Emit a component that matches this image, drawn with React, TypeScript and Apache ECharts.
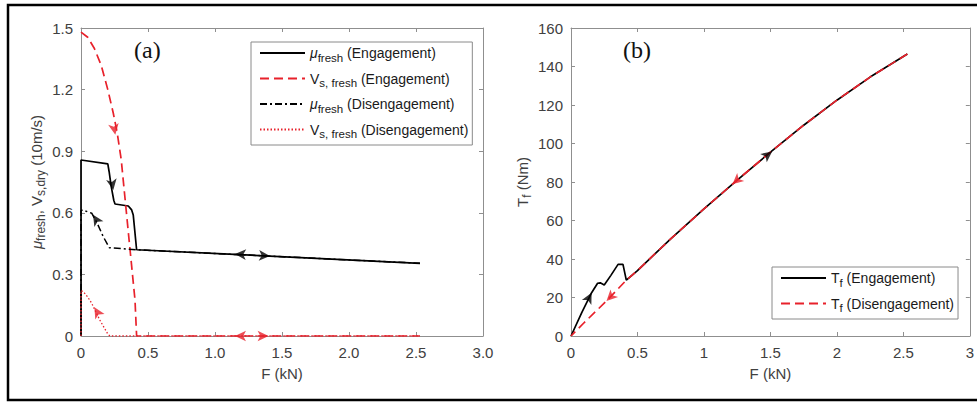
import React, { useEffect, useRef } from "react";
import * as echarts from "echarts";

// ---------- Panel (a) data ----------
const muEngF = [0, 0, 0.2, 0.21, 0.225, 0.245, 0.254, 0.353, 0.378, 0.39, 0.415, 2.53];
const muEngV = [0, 0.857, 0.838, 0.8, 0.73, 0.66, 0.643, 0.633, 0.614, 0.589, 0.42, 0.354];

const vEngF = [0, 0.05, 0.1, 0.15, 0.2, 0.241, 0.27, 0.3, 0.33, 0.366, 0.403, 0.415, 2.53];
const vEngV = [1.48, 1.455, 1.4, 1.32, 1.2, 1.085, 0.99, 0.86, 0.66, 0.42, 0.175, 0, 0];

const muDisF = [0, 0, 0.012, 0.08, 0.12, 0.166, 0.211, 0.415, 2.53];
const muDisV = [0, 0.61, 0.614, 0.598, 0.55, 0.484, 0.43, 0.42, 0.354];

const vDisF = [0, 0, 0.017, 0.05, 0.08, 0.14, 0.2, 0.216, 2.53];
const vDisV = [0, 0.22, 0.216, 0.19, 0.159, 0.078, 0.01, 0, 0];

// arrows in panel (a): [F, value]
const arrowsABlack = [[0.241, 0.711], [1.149, 0.399], [1.41, 0.39], [0.09, 0.59]];
const arrowsABlackRot = [-170, 87, -93, 32];
const arrowsARed = [[0.256, 0.98], [1.149, 0], [1.4, 0], [0.1, 0.14]];
const arrowsARedRot = [-170, 90, -90, 30];

const xLabelsA = ["0", "0.5", "1.0", "1.5", "2.0", "2.5", "3.0"];
const yLabelsA = ["0", "0.3", "0.6", "0.9", "1.2", "1.5"];

// ---------- Panel (b) data ----------
const tEngF = [0, 0.08, 0.155, 0.2, 0.22, 0.25, 0.3, 0.354, 0.391, 0.416, 0.5, 0.75, 1.0, 1.25, 1.5, 1.75, 2.0, 2.25, 2.53];
const tEngT = [0, 12, 22.5, 27.4, 27.6, 26.5, 31.5, 37.2, 37.2, 29, 34, 50.5, 66, 81, 95.5, 109.5, 122.5, 134.5, 146.5];

const tDisF = [2.53, 2.25, 2.0, 1.75, 1.5, 1.25, 1.0, 0.75, 0.5, 0.416, 0.267, 0.1, 0];
const tDisT = [146.5, 134.5, 122.5, 109.5, 95.5, 81, 66, 50.5, 34, 29, 18.2, 7, 0];

const arrowsBBlack = [[0.155, 22.5], [1.513, 95.9]];
const arrowsBBlackRot = [-27, -52];
const arrowsBRed = [[1.214, 78.8], [0.267, 18.2]];
const arrowsBRedRot = [131, 135];

const xLabelsB = ["0", "0.5", "1", "1.5", "2", "2.5", "3"];
const yLabelsB = ["0", "20", "40", "60", "80", "100", "120", "140", "160"];

const zip = (a: number[], b: number[]) => a.map((v, i) => [v, b[i]]);

const FONT = "Liberation Sans, Arial, sans-serif";
const AXIS_COLOR = "#8f8f8f";
const LABEL_COLOR = "#404040";
const RED = "#e8212b";
const FS = 15;
const LFS = 14;

const richText = {
  n: { fontFamily: FONT, fontSize: FS, color: LABEL_COLOR },
  m: { fontFamily: FONT, fontSize: FS, color: LABEL_COLOR, fontStyle: "italic" },
  s: { fontFamily: FONT, fontSize: 12, color: LABEL_COLOR, padding: [9, 0, 0, 0] },
};

const legendRich = {
  n: { fontFamily: FONT, fontSize: LFS, color: "#1a1a1a" },
  m: { fontFamily: FONT, fontSize: LFS, color: "#1a1a1a", fontStyle: "italic" },
  s: { fontFamily: FONT, fontSize: 11.5, color: "#1a1a1a", padding: [9, 0, 0, 0] },
};

const legendText: Record<string, string> = {
  "μfresh (Engagement)": "{m|μ}{s|fresh}{n| (Engagement)}",
  "Vs,fresh (Engagement)": "{n|V}{s|s, fresh}{n| (Engagement)}",
  "μfresh (Disengagement)": "{m|μ}{s|fresh}{n| (Disengagement)}",
  "Vs,fresh (Disengagement)": "{n|V}{s|s, fresh}{n| (Disengagement)}",
  "Tf (Engagement)": "{n|T}{s|f}{n| (Engagement)}",
  "Tf (Disengagement)": "{n|T}{s|f}{n| (Disengagement)}",
};

function xAxisCfg(gridIndex: number, labels: string[], top: boolean) {
  return {
    type: "value",
    gridIndex,
    min: 0,
    max: 3,
    interval: 0.5,
    position: top ? "top" : "bottom",
    axisLine: { show: true, onZero: false, lineStyle: { color: AXIS_COLOR, width: 1 } },
    axisTick: { show: true, inside: true, length: 4, lineStyle: { color: AXIS_COLOR } },
    axisLabel: top
      ? { show: false }
      : {
          show: true,
          margin: 9,
          color: LABEL_COLOR,
          fontFamily: FONT,
          fontSize: FS,
          formatter: (v: number) => labels[Math.round(v / 0.5)],
        },
    splitLine: { show: false },
    name: top ? "" : "F (kN)",
    nameLocation: "middle",
    nameGap: 30,
    nameTextStyle: { color: LABEL_COLOR, fontFamily: FONT, fontSize: FS },
  };
}

function yAxisCfg(
  gridIndex: number,
  max: number,
  interval: number,
  labels: string[],
  right: boolean,
  name: string,
  nameGap: number
) {
  return {
    type: "value",
    gridIndex,
    min: 0,
    max,
    interval,
    position: right ? "right" : "left",
    axisLine: { show: true, onZero: false, lineStyle: { color: AXIS_COLOR, width: 1 } },
    axisTick: { show: true, inside: true, length: 4, lineStyle: { color: AXIS_COLOR } },
    axisLabel: right
      ? { show: false }
      : {
          show: true,
          margin: 8,
          color: LABEL_COLOR,
          fontFamily: FONT,
          fontSize: FS,
          formatter: (v: number) => labels[Math.round(v / interval)],
        },
    splitLine: { show: false },
    name: right ? "" : name,
    nameLocation: "middle",
    nameRotate: 90,
    nameGap,
    nameTextStyle: { rich: richText, fontFamily: FONT, fontSize: FS, color: LABEL_COLOR },
  };
}

function arrowSeries(
  name: string,
  xAxisIndex: number,
  yAxisIndex: number,
  pts: number[][],
  rots: number[],
  color: string
) {
  return {
    name,
    type: "scatter",
    xAxisIndex,
    yAxisIndex,
    symbol: "arrow",
    symbolSize: [8, 11],
    itemStyle: { color },
    z: 10,
    silent: true,
    data: pts.map((p, i) => ({ value: p, symbolRotate: rots[i] })),
  };
}

function legendCfg(names: string[], left: number, top: number) {
  return {
    data: names,
    orient: "vertical",
    left,
    top,
    padding: [4, 4, 5, 8],
    itemGap: 8,
    itemWidth: 45,
    itemHeight: 12,
    borderColor: "#8a8a8a",
    borderWidth: 1,
    backgroundColor: "#ffffff",
    itemStyle: { opacity: 0, borderWidth: 0 },
    formatter: (n: string) => legendText[n] || n,
    textStyle: { rich: legendRich, fontFamily: FONT, fontSize: LFS },
  };
}

export default function App() {
  const ref = useRef<HTMLDivElement>(null);

  useEffect(() => {
    if (!ref.current) return;
    const chart = echarts.init(ref.current, undefined, { renderer: "svg" });

    const lineBase = { type: "line", showSymbol: false, symbol: "none", smooth: false };

    chart.setOption({
      animation: false,
      backgroundColor: "#ffffff",
      grid: [
        { left: 81, top: 28, width: 402, height: 308, show: false },
        { left: 571, top: 28, width: 401, height: 308, show: false },
      ],
      xAxis: [
        xAxisCfg(0, xLabelsA, false),
        xAxisCfg(0, xLabelsA, true),
        xAxisCfg(1, xLabelsB, false),
        xAxisCfg(1, xLabelsB, true),
      ],
      yAxis: [
        yAxisCfg(0, 1.5, 0.3, yLabelsA, false, "{m|μ}{s|fresh}{n|, V}{s|s,dry}{n| (10m/s)}", 34),
        yAxisCfg(0, 1.5, 0.3, yLabelsA, true, "", 0),
        yAxisCfg(1, 160, 20, yLabelsB, false, "{n|T}{s|f}{n| (Nm)}", 38),
        yAxisCfg(1, 160, 20, yLabelsB, true, "", 0),
      ],
      legend: [
        legendCfg(
          ["μfresh (Engagement)", "Vs,fresh (Engagement)", "μfresh (Disengagement)", "Vs,fresh (Disengagement)"],
          251,
          42
        ),
        legendCfg(["Tf (Engagement)", "Tf (Disengagement)"], 772, 267),
      ],
      graphic: [
        {
          type: "rect",
          shape: { x: 8, y: 5, width: 980, height: 395 },
          style: { fill: "none", stroke: "#000", lineWidth: 2.5 },
          z: 100,
          silent: true,
        },
        {
          type: "text",
          left: 134,
          top: 38,
          style: { text: "(a)", font: "24px 'Liberation Serif', 'Times New Roman', serif", fill: "#111" },
        },
        {
          type: "text",
          left: 623,
          top: 38,
          style: { text: "(b)", font: "24px 'Liberation Serif', 'Times New Roman', serif", fill: "#111" },
        },
      ],
      series: [
        {
          ...lineBase,
          name: "μfresh (Engagement)",
          xAxisIndex: 0,
          yAxisIndex: 0,
          data: zip(muEngF, muEngV),
          lineStyle: { color: "#000", width: 1.7, type: "solid" },
          itemStyle: { color: "#000" },
          z: 3,
        },
        {
          ...lineBase,
          name: "Vs,fresh (Engagement)",
          xAxisIndex: 0,
          yAxisIndex: 0,
          data: zip(vEngF, vEngV),
          lineStyle: { color: RED, width: 1.7, type: [9, 5] },
          itemStyle: { color: RED },
          z: 4,
        },
        {
          ...lineBase,
          name: "μfresh (Disengagement)",
          xAxisIndex: 0,
          yAxisIndex: 0,
          data: zip(muDisF, muDisV),
          lineStyle: { color: "#000", width: 1.5, type: [7, 3, 2, 3] },
          itemStyle: { color: "#000" },
          z: 5,
        },
        {
          ...lineBase,
          name: "Vs,fresh (Disengagement)",
          xAxisIndex: 0,
          yAxisIndex: 0,
          data: zip(vDisF, vDisV),
          lineStyle: { color: RED, width: 1.3, type: [1.5, 2] },
          itemStyle: { color: RED },
          z: 6,
        },
        arrowSeries("arrowsABlack", 0, 0, arrowsABlack, arrowsABlackRot, "#000"),
        arrowSeries("arrowsARed", 0, 0, arrowsARed, arrowsARedRot, RED),
        {
          ...lineBase,
          name: "Tf (Engagement)",
          xAxisIndex: 2,
          yAxisIndex: 2,
          data: zip(tEngF, tEngT),
          lineStyle: { color: "#000", width: 1.7, type: "solid" },
          itemStyle: { color: "#000" },
          z: 3,
        },
        {
          ...lineBase,
          name: "Tf (Disengagement)",
          xAxisIndex: 2,
          yAxisIndex: 2,
          data: zip(tDisF, tDisT),
          lineStyle: { color: RED, width: 1.7, type: [9, 5] },
          itemStyle: { color: RED },
          z: 4,
        },
        arrowSeries("arrowsBBlack", 2, 2, arrowsBBlack, arrowsBBlackRot, "#000"),
        arrowSeries("arrowsBRed", 2, 2, arrowsBRed, arrowsBRedRot, RED),
      ],
    });

    return () => chart.dispose();
  }, []);

  return (
    <div
      ref={ref}
      style={{ position: "fixed", left: 0, top: 0, width: 977, height: 403, background: "#fff" }}
    />
  );
}
